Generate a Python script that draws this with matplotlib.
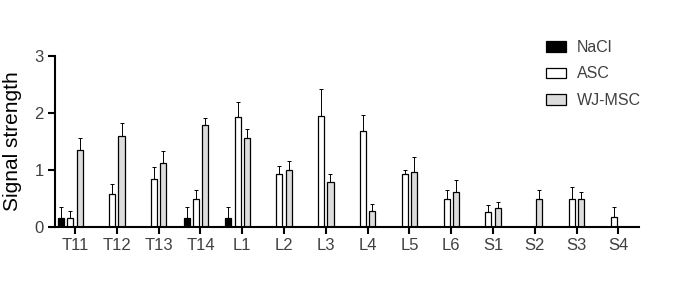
import numpy as np
import matplotlib
matplotlib.use("Agg")
import matplotlib.pyplot as plt
from matplotlib.patches import Patch

plt.rcParams['font.family'] = ['Liberation Sans', 'DejaVu Sans']

# tissue regions
regions = ["T11", "T12", "T13", "T14", "L1", "L2", "L3", "L4", "L5", "L6",
           "S1", "S2", "S3", "S4"]
nan = np.nan
nacl = [0.16, nan, nan, 0.16, 0.16, nan, nan, nan, nan, nan, nan, nan, nan, nan]
nacl_err = [0.18, nan, nan, 0.18, 0.18, nan, nan, nan, nan, nan, nan, nan, nan, nan]
asc = [0.16, 0.58, 0.84, 0.49, 1.92, 0.92, 1.94, 1.68, 0.92, 0.49, 0.25, nan, 0.49, 0.17]
asc_err = [0.12, 0.16, 0.20, 0.16, 0.26, 0.15, 0.48, 0.28, 0.08, 0.15, 0.13, nan, 0.20, 0.17]
wj = [1.34, 1.59, 1.12, 1.78, 1.56, 0.99, 0.78, 0.28, 0.96, 0.61, 0.33, 0.49, 0.49, nan]
wj_err = [0.22, 0.23, 0.20, 0.13, 0.16, 0.17, 0.15, 0.12, 0.26, 0.21, 0.11, 0.15, 0.12, nan]

x = np.arange(len(regions))
slot = 0.222
w = 0.145

fig = plt.figure(figsize=(6.85, 2.94), dpi=100)
ax = fig.add_axes([0.0803, 0.229, 0.853, 0.582])

series = [(nacl, nacl_err, "black", "NaCl", -1.5),
          (asc, asc_err, "white", "ASC", -0.5),
          (wj, wj_err, "#dcdcdc", "WJ-MSC", 0.5)]
for vals, err, col, lab, off in series:
    vals = np.array(vals)
    err = np.array(err)
    ax.bar(x + off * slot, vals, width=w, color=col, edgecolor="black",
           linewidth=0.9, zorder=2)
    ax.errorbar(x + off * slot, vals, yerr=[np.zeros_like(err), err],
                fmt="none", ecolor="black", elinewidth=0.7, capsize=1.3,
                capthick=0.7, zorder=1)

ax.set_xlim(-0.48, 13.5)
ax.set_ylim(0, 3)
ax.set_yticks([0, 1, 2, 3])
ax.set_xticks(x)
ax.set_xticklabels(regions)
ax.spines['top'].set_visible(False)
ax.spines['right'].set_visible(False)
for s in ['left', 'bottom']:
    ax.spines[s].set_linewidth(1.5)
ax.tick_params(axis='both', width=1.5, length=5, labelsize=12,
               labelcolor="#404040", pad=3)
ax.set_ylabel("Signal strength", fontsize=15, labelpad=9)

handles = [Patch(facecolor=c, edgecolor="black", linewidth=0.9, label=l)
           for _, _, c, l, _ in series]
ax.legend(handles=handles, loc="upper left", bbox_to_anchor=(0.815, 1.175),
          frameon=False, fontsize=11.5, handlelength=1.3, handleheight=0.65,
          labelspacing=0.72, handletextpad=0.65, labelcolor="#404040")

fig.savefig("out.png", dpi=100)
